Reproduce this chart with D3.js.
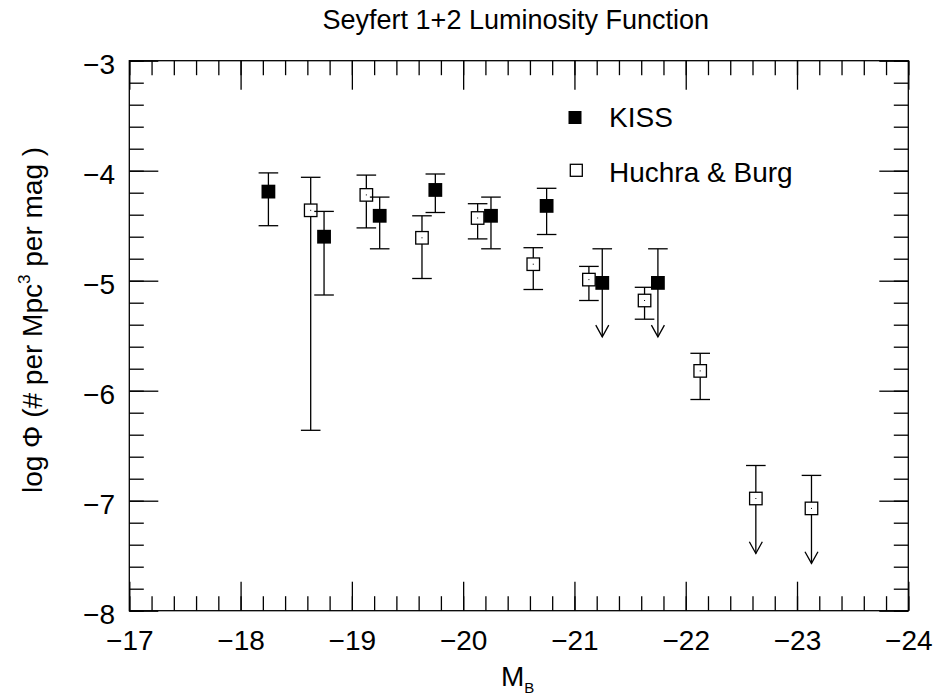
<!DOCTYPE html>
<html>
<head>
<meta charset="utf-8">
<script src="https://cdn.jsdelivr.net/npm/d3@7"></script>
<style>
  body { margin: 0; background: #fff; }
  svg { font-family: "Liberation Sans", Arial, sans-serif; }
  .tick line { stroke: #000; stroke-width: 1.3; }
  .domain { display: none; }
  .tick text { font-size: 28px; fill: #000; }
</style>
</head>
<body>
<div id="chart"></div>
<script>
// KISS sample (filled squares)
var kissMag = [-18.25, -18.75, -19.25, -19.75, -20.25, -20.75, -21.25, -21.75];
var kissPhi = [-4.19, -4.60, -4.41, -4.175, -4.41, -4.32, -5.02, -5.02];
var kissHi = [-4.02, -4.37, -4.24, -4.03, -4.24, -4.16, -4.71, -4.71];
var kissLo = [-4.50, -5.13, -4.71, -4.38, -4.71, -4.58, -5.51, -5.51];
var kissLimit = [0, 0, 0, 0, 0, 0, 1, 1];

// Huchra & Burg sample (open squares)
var hbMag = [-18.63, -19.13, -19.63, -20.13, -20.63, -21.13, -21.63, -22.13, -22.63, -23.13];
var hbPhi = [-4.36, -4.22, -4.61, -4.43, -4.85, -4.99, -5.18, -5.82, -6.98, -7.07];
var hbHi = [-4.06, -4.04, -4.41, -4.30, -4.70, -4.87, -5.06, -5.66, -6.68, -6.77];
var hbLo = [-6.36, -4.52, -4.98, -4.62, -5.08, -5.18, -5.35, -6.08, -7.48, -7.57];
var hbLimit = [0, 0, 0, 0, 0, 0, 0, 0, 1, 1];

var xTicks = [-17, -18, -19, -20, -21, -22, -23, -24];
var yTicks = [-3, -4, -5, -6, -7, -8];

// set graph dimensions and margins
var W = 937, H = 700;
var margin = { top: 60.7, right: 28.7, bottom: 89.3, left: 129.3 };
var width = W - margin.left - margin.right;
var height = H - margin.top - margin.bottom;

var x = d3.scaleLinear().domain([-17, -24]).range([0, width]);
var y = d3.scaleLinear().domain([-8, -3]).range([height, 0]);

var svg = d3.select('#chart')
  .append('svg')
  .attr('width', W)
  .attr('height', H);

var g = svg.append('g')
  .attr('transform', 'translate(' + margin.left + ',' + margin.top + ')');

var xMinor = d3.range(-17, -24.01, -0.2).map(function(v) { return +v.toFixed(1); });
var yMinor = d3.range(-8, -2.99, 0.2).map(function(v) { return +v.toFixed(1); });
var fmt = function(d) { return '\u2212' + Math.abs(d); };

// minor ticks (inward on all four sides)
g.append('g').attr('transform', 'translate(0,' + height + ')')
  .call(d3.axisBottom(x).tickValues(xMinor).tickSize(-14.5).tickFormat(''));
g.append('g')
  .call(d3.axisTop(x).tickValues(xMinor).tickSize(-14.5).tickFormat(''));
g.append('g')
  .call(d3.axisLeft(y).tickValues(yMinor).tickSize(-14.5).tickFormat(''));
g.append('g').attr('transform', 'translate(' + width + ',0)')
  .call(d3.axisRight(y).tickValues(yMinor).tickSize(-14.5).tickFormat(''));

// major ticks + labels
g.append('g').attr('transform', 'translate(0,' + height + ')')
  .call(d3.axisBottom(x).tickValues(xTicks).tickSize(-29).tickPadding(19.4).tickFormat(fmt));
g.append('g')
  .call(d3.axisTop(x).tickValues(xTicks).tickSize(-29).tickFormat(''));
g.append('g')
  .call(d3.axisLeft(y).tickValues(yTicks).tickSize(-29).tickPadding(14.3).tickFormat(fmt))
  .selectAll('text').attr('dy', '0.46em');
g.append('g').attr('transform', 'translate(' + width + ',0)')
  .call(d3.axisRight(y).tickValues(yTicks).tickSize(-29).tickFormat(''));

// frame
g.append('rect')
  .attr('width', width)
  .attr('height', height)
  .attr('fill', 'none')
  .attr('stroke', '#000')
  .attr('stroke-width', 1.3);

var capW = 9.8, box = 13.8;

// error bars, caps and upper-limit arrows
function drawErrors(mag, phi, hi, lo, lim) {
  var e = g.append('g').attr('stroke', '#000').attr('stroke-width', 1.3).attr('fill', 'none');
  mag.forEach(function(m, i) {
    var cx = x(m);
    e.append('line').attr('x1', cx).attr('x2', cx).attr('y1', y(hi[i])).attr('y2', y(lo[i]));
    e.append('line').attr('x1', cx - capW).attr('x2', cx + capW).attr('y1', y(hi[i])).attr('y2', y(hi[i]));
    if (lim[i]) {
      e.append('path')
        .attr('d', 'M' + (cx - 6.5) + ',' + (y(lo[i]) - 11.7) + 'L' + cx + ',' + y(lo[i]) +
          'L' + (cx + 6.5) + ',' + (y(lo[i]) - 11.7));
    } else {
      e.append('line').attr('x1', cx - capW).attr('x2', cx + capW).attr('y1', y(lo[i])).attr('y2', y(lo[i]));
    }
  });
}

drawErrors(hbMag, hbPhi, hbHi, hbLo, hbLimit);
// open squares
hbMag.forEach(function(m, i) {
  g.append('rect')
    .attr('x', x(m) - box / 2 + 0.65).attr('y', y(hbPhi[i]) - box / 2 + 0.65)
    .attr('width', box - 1.3).attr('height', box - 1.3)
    .attr('fill', '#fff').attr('stroke', '#000').attr('stroke-width', 1.3);
  g.append('rect')
    .attr('x', x(m) - 0.5).attr('y', y(hbPhi[i]) - 0.5)
    .attr('width', 1).attr('height', 1).attr('fill', '#000');
});

drawErrors(kissMag, kissPhi, kissHi, kissLo, kissLimit);
// filled squares
g.selectAll('.kiss')
  .data(kissMag)
  .enter().append('rect')
  .attr('class', 'kiss')
  .attr('x', function(m) { return x(m) - box / 2; })
  .attr('y', function(m, i) { return y(kissPhi[i]) - box / 2; })
  .attr('width', box).attr('height', box)
  .attr('fill', '#000');

// legend
svg.append('rect').attr('x', 568.5).attr('y', 111).attr('width', 13).attr('height', 13).attr('fill', '#000');
svg.append('text').attr('x', 609).attr('y', 126.7).attr('font-size', 28).text('KISS');
svg.append('rect').attr('x', 570.3).attr('y', 164.3).attr('width', 12).attr('height', 12)
  .attr('fill', '#fff').attr('stroke', '#000').attr('stroke-width', 1.3);
svg.append('text').attr('x', 609).attr('y', 182.3).attr('font-size', 28).text('Huchra & Burg');

// title
svg.append('text')
  .attr('x', margin.left + width / 2 - 3)
  .attr('y', 28.5)
  .attr('text-anchor', 'middle')
  .attr('font-size', 27)
  .text('Seyfert 1+2 Luminosity Function');

// x-axis label
var xl = svg.append('text')
  .attr('x', 501)
  .attr('y', 686)
  .attr('font-size', 28);
xl.append('tspan').text('M');
xl.append('tspan').attr('font-size', 15).attr('dy', 7).text('B');

// y-axis label
var yl = svg.append('text')
  .attr('transform', 'translate(42,320) rotate(-90)')
  .attr('text-anchor', 'middle')
  .attr('font-size', 28);
yl.append('tspan').text('log \u03a6 (# per Mpc');
yl.append('tspan').attr('font-size', 17).attr('dy', -12).text('3');
yl.append('tspan').attr('dy', 12).text(' per mag )');
</script>
</body>
</html>
